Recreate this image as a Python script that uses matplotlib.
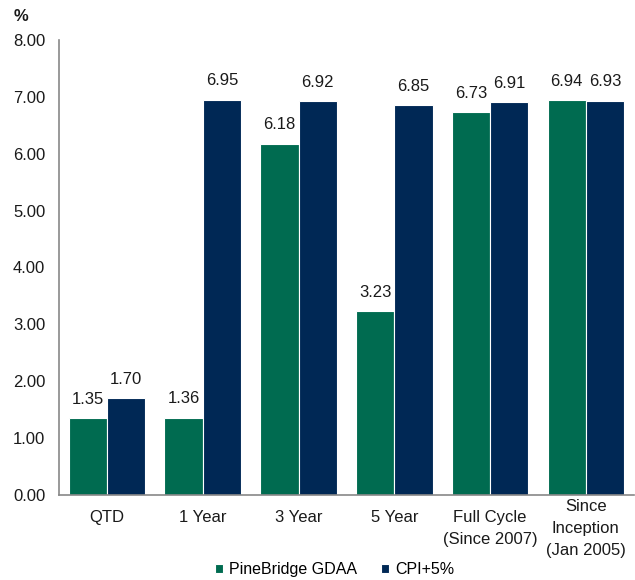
import matplotlib
matplotlib.use("Agg")
import matplotlib.pyplot as plt
import matplotlib.transforms as mtransforms
import numpy as np

plt.rcParams['font.family'] = ['Liberation Sans', 'DejaVu Sans']

categories = ["QTD", "1 Year", "3 Year", "5 Year", "Full Cycle\n(Since 2007)", "Since\nInception\n(Jan 2005)"]
pinebridge = [1.35, 1.36, 6.18, 3.23, 6.73, 6.94]
cpi = [1.70, 6.95, 6.92, 6.85, 6.91, 6.93]
series_names = ["PineBridge GDAA", "CPI+5%"]
yticks = [0, 1, 2, 3, 4, 5, 6, 7, 8]

green = "#006B50"
navy = "#002855"
text_color = "#1a1a1a"
fs = 12

fig = plt.figure(figsize=(6.35, 5.8), dpi=100)
ax = fig.add_axes([0.093, 0.1466, 0.905, 0.7844])

x = np.arange(len(categories))
w = 0.4
b1 = ax.bar(x - w/2, pinebridge, w, color=green, edgecolor="white", linewidth=0.8, label=series_names[0])
b2 = ax.bar(x + w/2, cpi, w, color=navy, edgecolor="white", linewidth=0.8, label=series_names[1])

for bars, vals in ((b1, pinebridge), (b2, cpi)):
    for rect, v in zip(bars, vals):
        ax.text(rect.get_x() + rect.get_width()/2, v + 0.2, f"{v:.2f}",
                ha="center", va="bottom", fontsize=fs, color=text_color)

ax.set_xlim(-0.5, len(categories) - 0.5)
ax.set_ylim(0, 8)
ax.set_yticks(yticks)
ax.set_yticklabels([f"{t:.2f}" for t in yticks], fontsize=fs, color=text_color)
ax.set_xticks(x)
ax.set_xticklabels([])
ax.tick_params(axis="both", length=0)
ax.tick_params(axis="y", pad=10)

# category labels (drawn manually so the last can sit higher, as in the reference)
blend = mtransforms.blended_transform_factory(ax.transData, ax.transAxes)
for i, lab in enumerate(categories):
    n_lines = lab.count("\n") + 1
    dy = -4 if n_lines == 3 else -15
    t = mtransforms.offset_copy(blend, fig=fig, x=0, y=dy * 72 / 100, units="points")
    ax.text(x[i], 0, lab, transform=t, ha="center", va="top", fontsize=fs,
            color=text_color, linespacing=1.58, multialignment="center")

for s in ("top", "right"):
    ax.spines[s].set_visible(False)
for s in ("left", "bottom"):
    ax.spines[s].set_color("#888888")
    ax.spines[s].set_linewidth(1.2)

fig.text(0.022, 0.972, "%", fontsize=fs, color=text_color, fontweight="bold", ha="left", va="center")

leg = fig.legend(handles=[b1, b2], labels=series_names, loc="center", bbox_to_anchor=(0.527, 0.018),
                 ncol=2, frameon=False, fontsize=11.5, handlelength=0.5, handleheight=0.5,
                 columnspacing=1.5, handletextpad=0.4)

fig.savefig("out.png", dpi=100)
